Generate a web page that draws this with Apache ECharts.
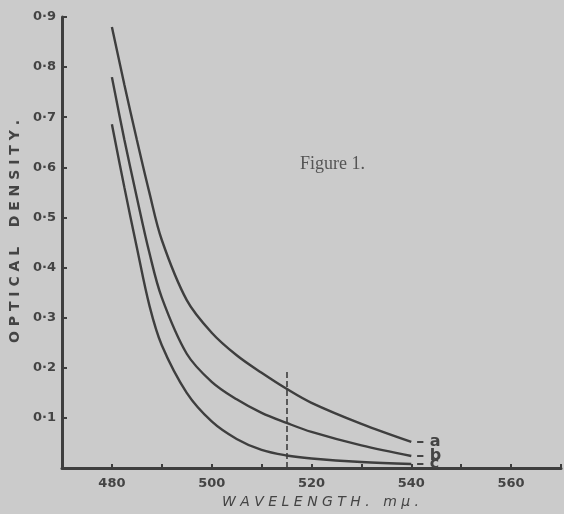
<!DOCTYPE html>
<html><head><meta charset="utf-8">
<style>html,body{margin:0;padding:0;background:#cbcbcb;}#c{width:564px;height:514px;}</style>
<script src="https://cdn.jsdelivr.net/npm/echarts@6/dist/echarts.min.js"></script>
</head><body><div id="c"></div>
<script>
const wavelengths = [480, 482.5, 485, 487.5, 490, 495, 500, 505, 510, 515, 520, 530, 540];
const curveA = [0.88, 0.765, 0.655, 0.55, 0.455, 0.335, 0.27, 0.225, 0.19, 0.158, 0.13, 0.088, 0.052];
const curveB = [0.78, 0.655, 0.54, 0.43, 0.34, 0.228, 0.172, 0.137, 0.11, 0.09, 0.072, 0.045, 0.024];
const curveC = [0.686, 0.56, 0.44, 0.325, 0.245, 0.15, 0.093, 0.058, 0.036, 0.025, 0.019, 0.012, 0.008];
const seriesNames = ['a', 'b', 'c'];
const markerWavelength = 515;
const markerTop = 0.195;
const yTickLabels = ['0·1','0·2','0·3','0·4','0·5','0·6','0·7','0·8','0·9'];

const ink = '#444';
const chart = echarts.init(document.getElementById('c'));
function mk(name, vals) {
  return {
    name: name, type: 'line', smooth: 0.35, showSymbol: false,
    data: wavelengths.map((w, i) => [w, vals[i]]),
    lineStyle: {color: '#3e3e3e', width: 2.4},
    endLabel: {show: true, formatter: '– ' + name, color: ink, fontSize: 16,
      fontFamily: 'DejaVu Sans', fontWeight: 'bold', distance: 5}
  };
}
const series = [mk(seriesNames[0], curveA), mk(seriesNames[1], curveB), mk(seriesNames[2], curveC)];
series[0].markLine = {
  silent: true, symbol: 'none', label: {show: false},
  lineStyle: {color: '#3e3e3e', type: [6, 3], width: 1.6},
  data: [[{coord: [markerWavelength, 0]}, {coord: [markerWavelength, markerTop]}]]
};
chart.setOption({
  backgroundColor: '#cbcbcb',
  animation: false,
  grid: {left: 62, right: 2, top: 17, bottom: 40},
  xAxis: {
    type: 'value', min: 470, max: 570, interval: 10,
    axisLine: {lineStyle: {color: '#3e3e3e', width: 3}},
    axisTick: {show: true, inside: true, length: 4, lineStyle: {color: '#3e3e3e', width: 2}},
    splitLine: {show: false},
    axisLabel: {color: ink, fontSize: 13, fontFamily: 'DejaVu Sans', fontWeight: 'bold', margin: 9,
      formatter: v => (v % 20 === 0 && v >= 480 && v <= 560) ? String(v) : ''},
    name: 'W A V E L E N G T H .   m μ .', nameLocation: 'middle', nameGap: 27,
    nameTextStyle: {color: ink, fontSize: 14, fontFamily: 'DejaVu Sans', fontStyle: 'italic', padding: [0, 0, 0, 18]}
  },
  yAxis: {
    type: 'value', min: 0, max: 0.9, interval: 0.1,
    axisLine: {show: true, lineStyle: {color: '#3e3e3e', width: 3}},
    axisTick: {show: true, inside: true, length: 5, lineStyle: {color: '#3e3e3e', width: 2}},
    splitLine: {show: false},
    axisLabel: {color: ink, fontSize: 13, fontFamily: 'DejaVu Sans', fontWeight: 'bold', margin: 6,
      formatter: v => { const i = Math.round(v * 10); return i === 0 ? '' : yTickLabels[i - 1]; }},
    name: 'O P T I C A L    D E N S I T Y .', nameLocation: 'middle', nameGap: 38,
    nameTextStyle: {color: ink, fontSize: 14, fontFamily: 'DejaVu Sans', fontWeight: 'bold', padding: [0, 0, 0, 22]}
  },
  graphic: [{type: 'text', left: 300, top: 155,
    style: {text: 'Figure 1.', fill: '#555', font: '18px "Liberation Serif"'}}],
  series: series
});
</script></body></html>
